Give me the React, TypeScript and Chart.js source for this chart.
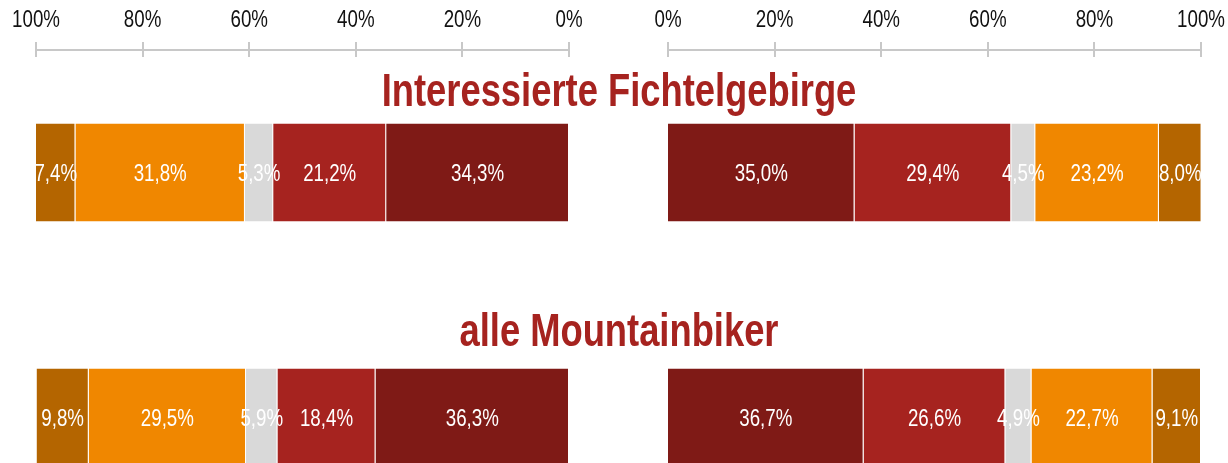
import React, { useEffect, useRef } from "react";
import { Chart, registerables } from "chart.js";

Chart.register(...registerables);

const categories = ["Interessierte Fichtelgebirge", "alle Mountainbiker"];
const seriesNames = ["Gruppe 1", "Gruppe 2", "Gruppe 3", "Gruppe 4", "Gruppe 5"];
const seriesColors = ["#7F1A16", "#A6231F", "#D9D9D9", "#F08700", "#B46500"];

// left panel (axis runs 100% -> 0%)
const leftSeries1 = [34.3, 36.3];
const leftSeries2 = [21.2, 18.4];
const leftSeries3 = [5.3, 5.9];
const leftSeries4 = [31.8, 29.5];
const leftSeries5 = [7.4, 9.8];

// right panel (axis runs 0% -> 100%)
const rightSeries1 = [35.0, 36.7];
const rightSeries2 = [29.4, 26.6];
const rightSeries3 = [4.5, 4.9];
const rightSeries4 = [23.2, 22.7];
const rightSeries5 = [8.0, 9.1];

const tickValues = [0, 20, 40, 60, 80, 100];

const FONT = "'Liberation Sans', Arimo, Arial, sans-serif";
const SQUEEZE = 0.78;
const TITLE_COLOR = "#A6231F";
const AXIS_COLOR = "#C8C8C8";

const fmt = (v: number) => v.toFixed(1).replace(".", ",") + "%";

function squeezedText(ctx: CanvasRenderingContext2D, text: string, x: number, y: number) {
  ctx.save();
  ctx.translate(x, y);
  ctx.scale(SQUEEZE, 1);
  ctx.fillText(text, 0, 0);
  ctx.restore();
}

const valueLabels = {
  id: "valueLabels",
  afterDatasetsDraw(chart: any) {
    const ctx = chart.ctx;
    ctx.save();
    ctx.font = `24px ${FONT}`;
    ctx.fillStyle = "#ffffff";
    ctx.textAlign = "center";
    ctx.textBaseline = "alphabetic";
    chart.data.datasets.forEach((ds: any, i: number) => {
      const meta = chart.getDatasetMeta(i);
      meta.data.forEach((bar: any, j: number) => {
        const p = bar.getProps(["x", "y", "base"], true);
        squeezedText(ctx, fmt(ds.data[j]), (p.x + p.base) / 2, p.y + 8);
      });
    });
    ctx.restore();
  },
};

const axisMarks = {
  id: "axisMarks",
  afterDraw(chart: any) {
    const s = chart.scales.x;
    const ctx = chart.ctx;
    const top = chart.chartArea.top;
    ctx.save();
    ctx.strokeStyle = AXIS_COLOR;
    ctx.lineWidth = 2;
    ctx.beginPath();
    ctx.moveTo(s.left, top);
    ctx.lineTo(s.right, top);
    tickValues.forEach((v) => {
      const px = Math.round(s.getPixelForValue(v));
      ctx.moveTo(px, top - 8);
      ctx.lineTo(px, top + 7);
    });
    ctx.stroke();
    ctx.font = `24px ${FONT}`;
    ctx.fillStyle = "#111111";
    ctx.textAlign = "center";
    ctx.textBaseline = "alphabetic";
    tickValues.forEach((v) => {
      const px = s.getPixelForValue(v);
      squeezedText(ctx, v + "%", px, top - 23);
    });
    ctx.restore();
  },
};

function makeConfig(series: number[][], reverse: boolean, padLeft: number, padRight: number): any {
  return {
    type: "bar",
    data: {
      labels: categories,
      datasets: series.map((d, i) => ({
        label: seriesNames[i],
        data: d,
        backgroundColor: seriesColors[i],
        borderColor: "rgba(255,255,255,0.14)",
        borderWidth: { top: 0, bottom: 0, left: 0, right: 1 },
        borderSkipped: false,
        categoryPercentage: 1,
        barPercentage: 0.4,
      })),
    },
    options: {
      indexAxis: "y",
      responsive: false,
      animation: false,
      devicePixelRatio: 1,
      layout: { padding: { left: padLeft, right: padRight, top: 0, bottom: 5 } },
      plugins: { legend: { display: false }, tooltip: { enabled: false }, title: { display: false } },
      scales: {
        x: {
          type: "linear",
          position: "top",
          stacked: true,
          min: 0,
          max: 100,
          reverse,
          afterFit: (scale: any) => {
            scale.height = 50;
          },
          ticks: { display: false, stepSize: 20 },
          grid: { display: false },
          border: { display: false },
        },
        y: {
          type: "category",
          stacked: true,
          display: false,
        },
      },
    },
    plugins: [valueLabels, axisMarks],
  };
}

export default function App() {
  const leftRef = useRef<HTMLCanvasElement>(null);
  const rightRef = useRef<HTMLCanvasElement>(null);

  useEffect(() => {
    const left = new Chart(
      leftRef.current as HTMLCanvasElement,
      makeConfig([leftSeries1, leftSeries2, leftSeries3, leftSeries4, leftSeries5], true, 36, 41)
    );
    const right = new Chart(
      rightRef.current as HTMLCanvasElement,
      makeConfig([rightSeries1, rightSeries2, rightSeries3, rightSeries4, rightSeries5], false, 58, 27)
    );
    return () => {
      left.destroy();
      right.destroy();
    };
  }, []);

  return (
    <div
      style={{
        position: "fixed",
        left: 0,
        top: 0,
        width: 1228,
        height: 463,
        overflow: "hidden",
        background: "#ffffff",
      }}
    >
      <canvas ref={leftRef} width={610} height={545} style={{ position: "absolute", left: 0, top: 0 }} />
      <canvas ref={rightRef} width={618} height={545} style={{ position: "absolute", left: 610, top: 0 }} />
      {categories.map((c, i) => (
        <div
          key={c}
          style={{
            position: "absolute",
            left: 618.5,
            top: 67 + i * 240,
            transform: `translateX(-50%) scaleX(${SQUEEZE + 0.01})`,
            whiteSpace: "nowrap",
            fontFamily: FONT,
            fontWeight: "bold",
            fontSize: 46,
            lineHeight: "46px",
            color: TITLE_COLOR,
          }}
        >
          {c}
        </div>
      ))}
    </div>
  );
}
